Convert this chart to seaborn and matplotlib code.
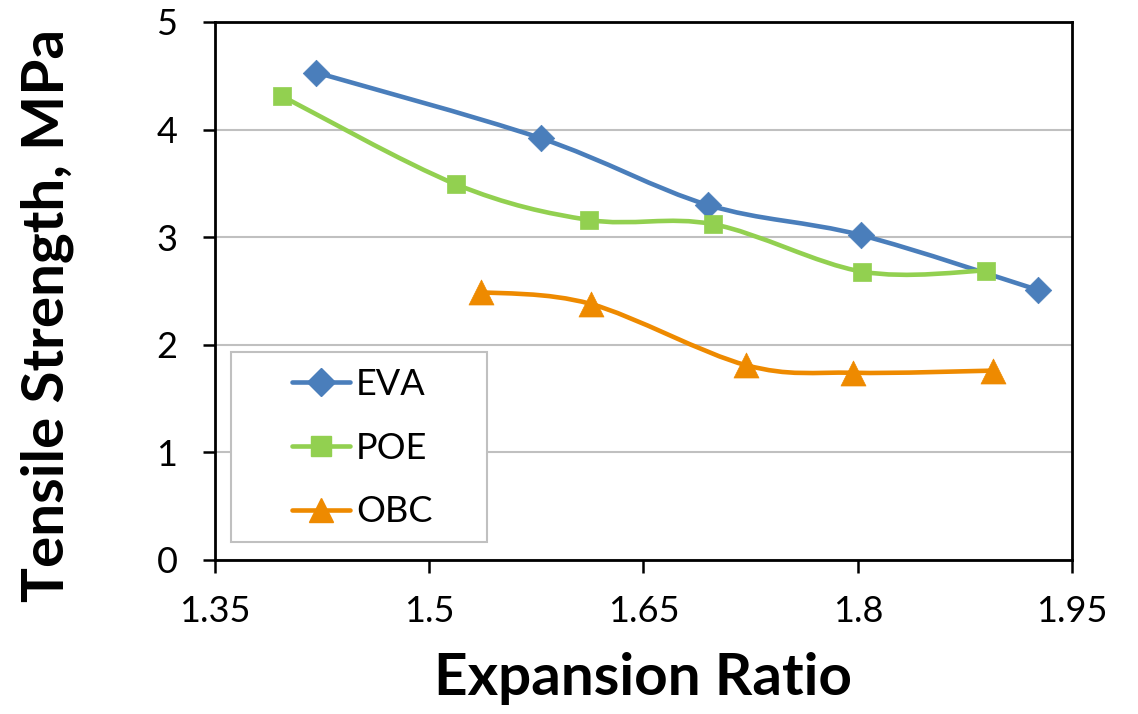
import numpy as np
import pandas as pd
import seaborn as sns
import matplotlib
matplotlib.use("Agg")
import matplotlib.pyplot as plt
from matplotlib.path import Path
from matplotlib.patches import PathPatch, Rectangle
from matplotlib.lines import Line2D

# Tensile strength (MPa) against expansion ratio for three foamed polymers
eva_x = [1.421, 1.578, 1.695, 1.802, 1.926]
eva_y = [4.53, 3.92, 3.30, 3.02, 2.51]

poe_x = [1.397, 1.519, 1.612, 1.699, 1.803, 1.890]
poe_y = [4.31, 3.49, 3.16, 3.12, 2.68, 2.69]

obc_x = [1.536, 1.613, 1.722, 1.797, 1.895]
obc_y = [2.49, 2.38, 1.81, 1.74, 1.76]

series_names = ["EVA", "POE", "OBC"]
colors = {"EVA": "#4A7EBB", "POE": "#92D050", "OBC": "#EE8A00"}
markers = {"EVA": "D", "POE": "s", "OBC": "^"}
marker_sizes = {"EVA": 13.5, "POE": 13.5, "OBC": 18}
legend_marker_sizes = {"EVA": 14.5, "POE": 14.5, "OBC": 17}

x_ticks = [1.35, 1.5, 1.65, 1.8, 1.95]
x_tick_labels = ["1.35", "1.5", "1.65", "1.8", "1.95"]
y_ticks = [0, 1, 2, 3, 4, 5]

frames = []
for name, xs, ys in zip(series_names, [eva_x, poe_x, obc_x], [eva_y, poe_y, obc_y]):
    frames.append(pd.DataFrame({"ratio": xs, "strength": ys, "material": name}))
df = pd.concat(frames, ignore_index=True)

sns.set_theme(style="white")
plt.rcParams["font.family"] = ["Lato", "DejaVu Sans"]
plt.rcParams["text.color"] = "black"
plt.rcParams["axes.labelcolor"] = "black"
plt.rcParams["xtick.color"] = "black"
plt.rcParams["ytick.color"] = "black"

fig = plt.figure(figsize=(11.38, 7.14), dpi=100)
ax = fig.add_axes([0.1889, 0.2157, 0.7531, 0.7535])


def smooth_path(xs, ys):
    """Cubic Bezier path through the points (Catmull-Rom style tangents)."""
    pts = np.column_stack([xs, ys]).astype(float)
    n = len(pts)
    verts = [pts[0]]
    codes = [Path.MOVETO]
    for i in range(n - 1):
        p0 = pts[i - 1] if i > 0 else pts[i]
        p1 = pts[i]
        p2 = pts[i + 1]
        p3 = pts[i + 2] if i + 2 < n else pts[i + 1]
        c1 = p1 + (p2 - p0) / 6.0
        c2 = p2 - (p3 - p1) / 6.0
        verts += [c1, c2, p2]
        codes += [Path.CURVE4] * 3
    return Path(verts, codes)


for name in series_names:
    sub = df[df["material"] == name]
    patch = PathPatch(smooth_path(sub["ratio"], sub["strength"]), fill=False,
                      edgecolor=colors[name], linewidth=3.3, capstyle="round",
                      joinstyle="round", zorder=2)
    ax.add_patch(patch)
    sns.scatterplot(data=sub, x="ratio", y="strength", marker=markers[name],
                    s=marker_sizes[name] ** 2, color=colors[name],
                    edgecolor=colors[name], linewidth=0.5, ax=ax, zorder=3,
                    legend=False)

ax.set_xlim(1.35, 1.95)
ax.set_ylim(0, 5)
ax.set_xticks(x_ticks)
ax.set_xticklabels(x_tick_labels)
ax.set_yticks(y_ticks)
ax.yaxis.grid(True, color="#C0C0C0", linewidth=1.5)
ax.xaxis.grid(False)
ax.set_axisbelow(True)

for side in ["left", "bottom", "top", "right"]:
    ax.spines[side].set_visible(True)
    ax.spines[side].set_color("black")
    ax.spines[side].set_linewidth(2.0)

ax.tick_params(axis="both", which="major", direction="out", length=9,
               width=1.8, color="black", labelsize=26, labelcolor="black",
               bottom=True, left=True)
ax.tick_params(axis="y", pad=18)
ax.tick_params(axis="x", pad=16)

ax.set_xlabel("Expansion Ratio", fontsize=42, fontweight="bold")
ax.set_ylabel("Tensile Strength, MPa", fontsize=42, fontweight="bold")
ax.xaxis.set_label_coords(0.5, -0.251)
ax.xaxis.label.set_va("baseline")
ax.yaxis.set_label_coords(-0.196, 0.455)
ax.yaxis.label.set_va("center")

# Legend: framed box in the lower-left corner of the plot area
ax.add_patch(Rectangle((0.0187, 0.0335), 0.2987, 0.353, transform=ax.transAxes,
                       facecolor="white", edgecolor="#C0C0C0", linewidth=1.5,
                       zorder=2.5))
handles = [Line2D([0], [0], color=colors[n], linewidth=3.3, marker=markers[n],
                  markersize=legend_marker_sizes[n], markeredgecolor=colors[n],
                  solid_capstyle="round") for n in series_names]
leg = ax.legend(handles, series_names, loc="center left",
                bbox_to_anchor=(0.0898, 0.208), fontsize=26, frameon=False,
                handlelength=1.6, handletextpad=0.17, labelspacing=0.85,
                borderpad=0.0, borderaxespad=0.0)
leg.set_zorder(4)

fig.savefig("out.png", dpi=100, facecolor="white")
